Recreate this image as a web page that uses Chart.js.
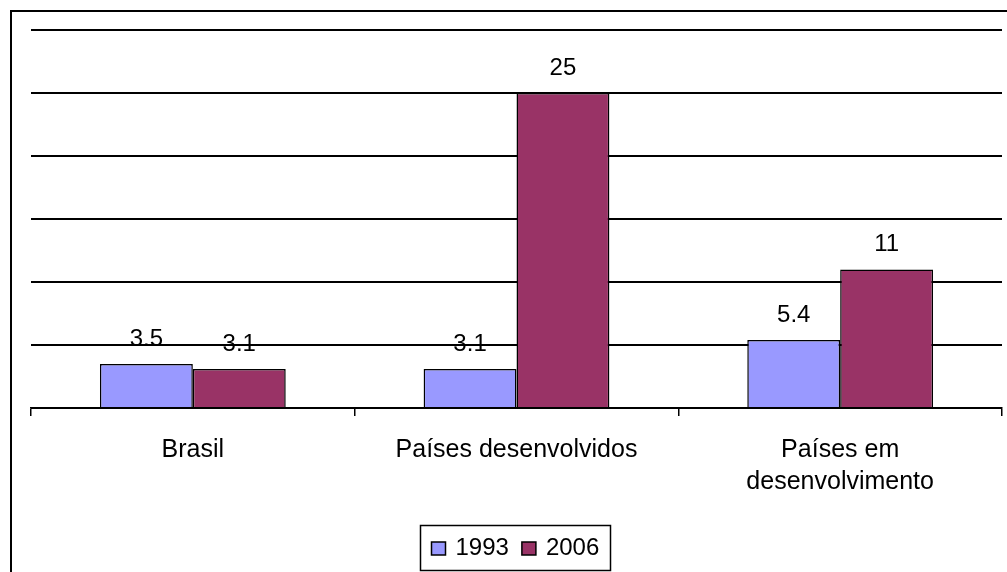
<!DOCTYPE html>
<html>
<head>
<meta charset="utf-8">
<script src="https://cdn.jsdelivr.net/npm/chart.js@4/dist/chart.umd.min.js"></script>
<style>
  html, body { margin: 0; padding: 0; background: #fff; }
  #wrap { width: 1007px; height: 572px; position: relative; }
</style>
</head>
<body>
<div id="wrap"><canvas id="chart" width="1007" height="572"></canvas></div>
<script>
var categories = ["Brasil", "Países desenvolvidos", ["Países em", "desenvolvimento"]];
var seriesNames = ["1993", "2006"];
var values1993 = [3.5, 3.1, 5.4];
var values2006 = [3.1, 25, 11];
var yTicks = [0, 5, 10, 15, 20, 25, 30];

var FONT = "'Liberation Sans', Arial, sans-serif";

// frame, value labels and boxed legend, drawn the Excel way
var excelBits = {
    id: 'excelBits',
    beforeDraw: function (chart) {
        var c = chart.ctx;
        c.save();
        c.fillStyle = '#fff';
        c.fillRect(0, 0, chart.width, chart.height);
        c.strokeStyle = '#000';
        c.lineWidth = 2;
        c.strokeRect(11, 11, chart.width + 20, chart.height + 20);
        c.restore();
    },
    afterDatasetsDraw: function (chart) {
        var c = chart.ctx;
        c.save();
        c.font = '24px ' + FONT;
        c.fillStyle = '#000';
        c.textAlign = 'center';
        c.textBaseline = 'alphabetic';
        chart.data.datasets.forEach(function (ds, i) {
            chart.getDatasetMeta(i).data.forEach(function (bar, j) {
                c.fillText(String(ds.data[j]), bar.x, bar.y - 18);
            });
        });
        c.restore();
    },
    afterDraw: function (chart) {
        var c = chart.ctx;
        c.save();
        c.font = '24px ' + FONT;
        var box = 14, gap = 10, itemGap = 13, padL = 11, padR = 11;
        var widths = seriesNames.map(function (n) { return box + gap + c.measureText(n).width; });
        var total = widths.reduce(function (a, b) { return a + b; }, 0) + itemGap * (widths.length - 1);
        var w = Math.round(total + padL + padR), h = 45;
        var x0 = 420.5, y0 = 525.5;
        c.strokeStyle = '#000';
        c.lineWidth = 1.5;
        c.strokeRect(x0, y0, w, h);
        var x = x0 + padL, base = 555;
        chart.data.datasets.forEach(function (ds, i) {
            c.fillStyle = ds.backgroundColor;
            c.fillRect(x, base - 13, box, box - 1);
            c.lineWidth = 1.5;
            c.strokeRect(x, base - 13, box, box - 1);
            c.fillStyle = '#000';
            c.textBaseline = 'alphabetic';
            c.textAlign = 'left';
            c.fillText(seriesNames[i], x + box + gap, base);
            x += widths[i] + itemGap;
        });
        c.restore();
    }
};

new Chart(document.getElementById('chart'), {
    type: 'bar',
    data: {
        labels: categories,
        datasets: [
            { label: seriesNames[0], data: values1993, backgroundColor: '#9999FF', borderColor: '#000', borderWidth: 1.5 },
            { label: seriesNames[1], data: values2006, backgroundColor: '#993366', borderColor: '#000', borderWidth: 1.5 }
        ]
    },
    options: {
        responsive: false,
        animation: false,
        devicePixelRatio: 1,
        layout: { padding: { left: 31, right: 5, top: 30, bottom: 56 } },
        datasets: { bar: { barPercentage: 1, categoryPercentage: 0.574 } },
        plugins: { legend: { display: false }, tooltip: { enabled: false } },
        scales: {
            x: {
                border: { display: true, color: '#000', width: 1.5 },
                grid: { display: true, offset: true, drawOnChartArea: false, drawTicks: true, tickLength: 8, color: '#000', lineWidth: 1.5 },
                ticks: { color: '#000', font: { family: FONT, size: 25, lineHeight: 1.28 }, padding: 18, maxRotation: 0, autoSkip: false }
            },
            y: {
                min: yTicks[0],
                max: yTicks[yTicks.length - 1],
                afterBuildTicks: function (axis) { axis.ticks = yTicks.map(function (v) { return { value: v }; }); },
                border: { display: false },
                grid: { color: '#000', lineWidth: 2, drawTicks: false },
                ticks: { display: false }
            }
        }
    },
    plugins: [excelBits]
});
</script>
</body>
</html>
